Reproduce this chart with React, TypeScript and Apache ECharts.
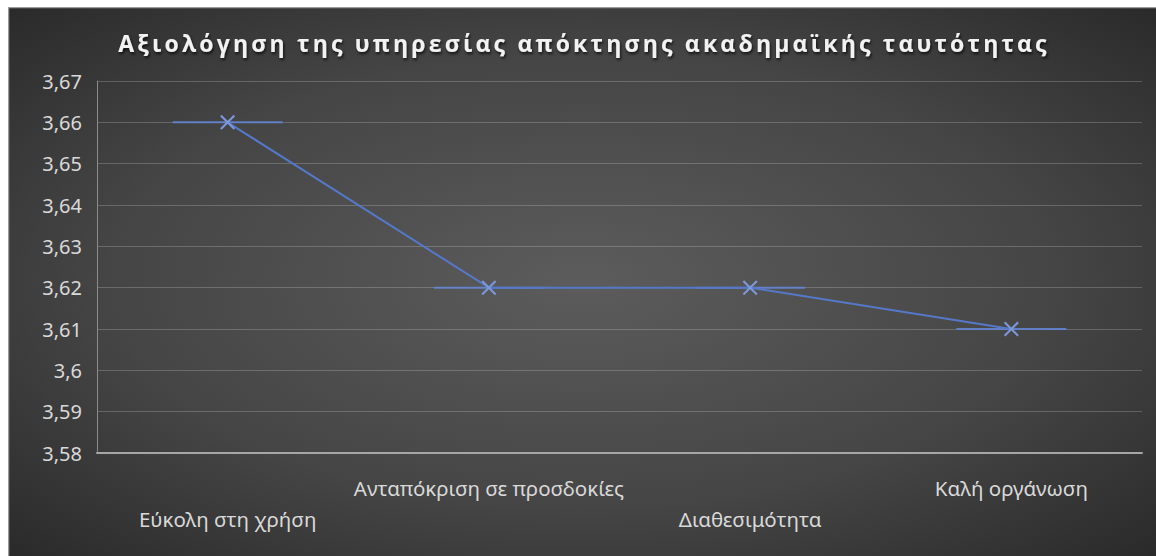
import React, { useEffect, useRef } from "react";
import * as echarts from "echarts";

const titleText = "Αξιολόγηση της υπηρεσίας απόκτησης ακαδημαϊκής ταυτότητας";
const categories = ["Εύκολη στη χρήση", "Ανταπόκριση σε προσδοκίες", "Διαθεσιμότητα", "Καλή οργάνωση"];
const values = [3.66, 3.62, 3.62, 3.61];
const yMin = 3.58;
const yMax = 3.67;
const yStep = 0.01;

export default function App() {
  const ref = useRef<HTMLDivElement>(null);
  useEffect(() => {
    document.body.style.overflow = "hidden";
    const chart = echarts.init(ref.current!, null, { renderer: "svg" });
    const bg = new echarts.graphic.RadialGradient(0.5, 0.5, 0.75, [
      { offset: 0, color: "#5c5c5c" },
      { offset: 0.55, color: "#454545" },
      { offset: 1, color: "#262626" },
    ]);
    chart.setOption({
      animation: false,
      backgroundColor: bg,
      graphic: [
        {
          type: "rect",
          shape: { x: 0.5, y: 0.5, width: 1200, height: 600 },
          style: { fill: "none", stroke: "#9a9a9a", lineWidth: 1.5 },
          silent: true,
        },
        {
          type: "text",
          x: 576,
          y: 36,
          style: {
            text: titleText,
            fill: "#f2f2f2",
            font: "bold 23px 'Open Sans'",
            align: "center",
            verticalAlign: "middle",
            textShadowColor: "rgba(0,0,0,0.75)",
            textShadowBlur: 3,
            textShadowOffsetX: 1,
            textShadowOffsetY: 2,
          },
        },
      ],
      grid: { left: 89, right: 14, top: 74, bottom: 103 },
      xAxis: {
        type: "category",
        data: categories,
        boundaryGap: true,
        axisTick: { show: false },
        axisLine: { lineStyle: { color: "#a6a6a6", width: 2 } },
        axisLabel: {
          interval: 0,
          color: "#d9d9d9",
          fontFamily: "Noto Sans",
          fontSize: 20.5,
          lineHeight: 31,
          margin: 19,
          formatter: (v: string, i: number) => (i % 2 === 0 ? "\n" + v : v),
        },
      },
      yAxis: {
        type: "value",
        min: yMin,
        max: yMax,
        interval: yStep,
        axisLine: { show: true, lineStyle: { color: "#8c8c8c", width: 1 } },
        axisTick: { show: false },
        splitLine: { lineStyle: { color: "rgba(255,255,255,0.2)", width: 1 } },
        axisLabel: {
          color: "#d9d9d9",
          fontFamily: "Noto Sans",
          fontSize: 20,
          margin: 15,
          formatter: (v: number) => String(+v.toFixed(2)).replace(".", ","),
        },
      },
      series: [
        {
          type: "scatter",
          data: values,
          symbol: "rect",
          symbolSize: [110, 2],
          itemStyle: { color: "#6384d2", opacity: 0.9 },
          z: 2,
          silent: true,
        },
        {
          type: "line",
          data: values,
          lineStyle: { color: "#5578c8", width: 2 },
          symbol: "path://M1,0L5,4L9,0L10,1L6,5L10,9L9,10L5,6L1,10L0,9L4,5L0,1Z",
          symbolSize: 15,
          itemStyle: { color: "#7c98d8" },
          z: 3,
        },
      ],
    });
    return () => chart.dispose();
  }, []);
  return (
    <>
      <style>{`text[style*="Open Sans"]{letter-spacing:3.2px}`}</style>
      <div
        ref={ref}
        style={{ position: "absolute", left: 8, top: 7, width: 1148, height: 549 }}
      />
    </>
  );
}
